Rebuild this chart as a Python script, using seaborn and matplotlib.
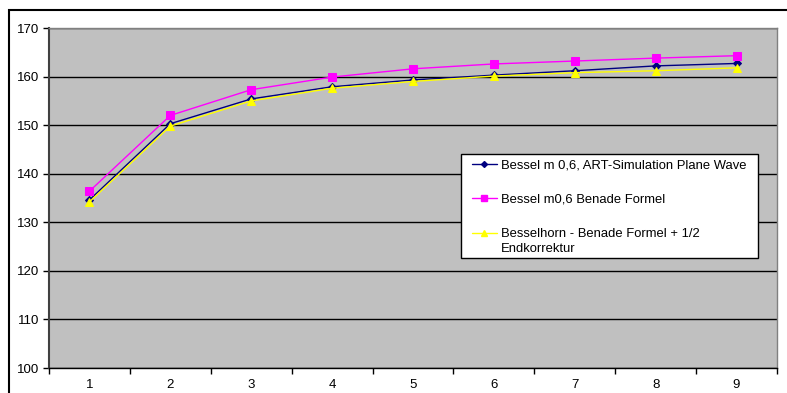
import numpy as np
import pandas as pd
import matplotlib
matplotlib.use("Agg")
import matplotlib.pyplot as plt
from matplotlib.patches import Rectangle
from matplotlib.lines import Line2D
import seaborn as sns

# Data
categories = ["1", "2", "3", "4", "5", "6", "7", "8", "9"]
series_names = [
    "Bessel m 0,6, ART-Simulation Plane Wave",
    "Bessel m0,6 Benade Formel",
    "Besselhorn - Benade Formel + 1/2",
]
series_name_continuation = "Endkorrektur"
art_simulation = [134.6, 150.3, 155.4, 157.9, 159.3, 160.3, 161.2, 162.2, 162.7]
benade_formel = [136.4, 152.0, 157.3, 159.9, 161.6, 162.6, 163.2, 163.8, 164.3]
benade_endkorrektur = [134.2, 149.8, 155.0, 157.6, 159.0, 160.1, 160.8, 161.2, 161.8]
y_ticks = [100, 110, 120, 130, 140, 150, 160, 170]

colors = ["#000080", "#FF00FF", "#FFFF00"]
markers = ["D", "s", "^"]
marker_sizes = [4, 5.5, 6]

df = pd.DataFrame({
    "pos": np.tile(np.arange(len(categories)), 3),
    "value": art_simulation + benade_formel + benade_endkorrektur,
    "series": np.repeat(series_names, len(categories)),
})

sns.set_theme(style="white")
plt.rcParams["font.family"] = ["Liberation Sans", "DejaVu Sans"]

W, H = 787, 393
fig = plt.figure(figsize=(W / 100, H / 100), dpi=100)
ax = fig.add_axes([49 / W, 1 - 368 / H, (777 - 49) / W, (368 - 28) / H])
ax.set_facecolor("#C0C0C0")

for i, name in enumerate(series_names):
    sub = df[df["series"] == name]
    sns.lineplot(data=sub, x="pos", y="value", ax=ax, color=colors[i],
                 marker=markers[i], markersize=marker_sizes[i],
                 markeredgecolor=colors[i], linewidth=1.0, legend=False,
                 zorder=3 + i)

ax.set_xlim(-0.5, len(categories) - 0.5)
ax.set_ylim(100, 170)
ax.set_yticks(y_ticks)
ax.set_yticklabels([str(t) for t in y_ticks], fontsize=9.5)
ax.set_xticks(np.arange(len(categories)))
ax.set_xticklabels(categories, fontsize=9.5)
ax.set_xticks(np.arange(len(categories) + 1) - 0.5, minor=True)
ax.tick_params(axis="x", which="major", length=0, pad=8, colors="black")
ax.tick_params(axis="x", which="minor", length=4, width=1, color="black",
               direction="out", bottom=True)
ax.tick_params(axis="y", which="major", length=4, width=1, color="black",
               direction="out", left=True, pad=3, colors="black")
ax.set_xlabel("")
ax.set_ylabel("")

ax.yaxis.grid(True, color="black", linewidth=1.0)
ax.set_axisbelow(True)

for side in ["top", "right"]:
    ax.spines[side].set_color("#808080")
    ax.spines[side].set_linewidth(1.0)
ax.spines["left"].set_color("#404040")
ax.spines["left"].set_linewidth(1.5)
ax.spines["bottom"].set_color("black")
ax.spines["bottom"].set_linewidth(1.0)

# Legend box
fig.patches.append(Rectangle((461 / W, 1 - 258 / H), (758 - 461) / W, (258 - 154) / H,
                             transform=fig.transFigure, facecolor="white",
                             edgecolor="black", linewidth=1.0, zorder=5))
handles = [
    Line2D([0], [0], color=colors[i], marker=markers[i],
           markersize=marker_sizes[i] * 0.75, markeredgecolor=colors[i], linewidth=1.0)
    for i in range(3)
]
leg = fig.legend(handles, series_names, loc="upper left",
                 bbox_to_anchor=(472 / W, 1 - 159.5 / H),
                 fontsize=9.4, frameon=False, borderaxespad=0, borderpad=0,
                 labelspacing=1.7, handlelength=1.9, handletextpad=0.3)
leg.set_zorder(6)
for t in leg.get_texts():
    t.set_color("black")

# Wrapped second line of the last legend entry
fig.canvas.draw()
last = leg.get_texts()[-1]
bb = last.get_window_extent()
fig.text(bb.x0 / W, (bb.y0 + bb.y1) / 2 / H - 15 / H, series_name_continuation,
         fontsize=9.4, color="black", ha="left", va="center", zorder=7)

# Outer chart frame
fig.patches.append(Rectangle((9 / W, -0.1), 1.2, (1 - 10 / H) + 0.1,
                             transform=fig.transFigure, fill=False,
                             edgecolor="black", linewidth=1.5, clip_on=False))

fig.savefig("out.png", dpi=100, facecolor="white")
